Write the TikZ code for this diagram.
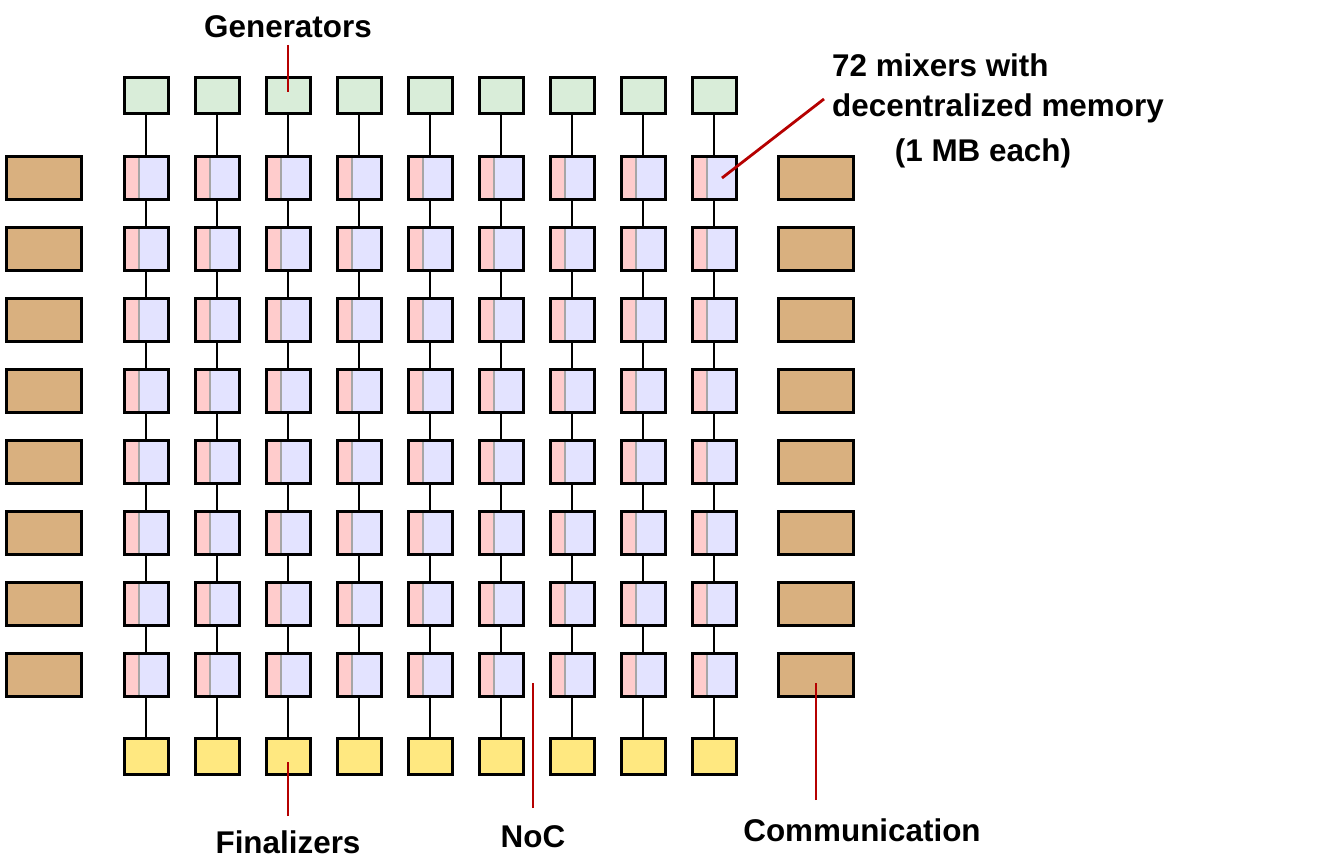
\documentclass[tikz,border=0pt]{standalone}
\usepackage{fontspec}
\setmainfont{Liberation Sans}
\definecolor{gengreen}{HTML}{D9EDD9}
\definecolor{finyellow}{HTML}{FFE880}
\definecolor{combrown}{HTML}{D9B07F}
\definecolor{memblue}{HTML}{E3E3FF}
\definecolor{cachered}{HTML}{FFCCCC}
\definecolor{sepgrey}{HTML}{A6A6A6}
\definecolor{calloutred}{HTML}{B50000}
\begin{document}
\begin{tikzpicture}
				[
				x=1pt, y=-1pt, font=\fontsize{31.4}{40}\selectfont\bfseries,
				%Kasten
				box/.style={draw=black, line width=3pt, inner sep=0pt},
				gen/.style={box, fill=gengreen, minimum width=44pt, minimum height=36pt},
				fin/.style={box, fill=finyellow, minimum width=44pt, minimum height=36pt},
				comm/.style={box, fill=combrown, minimum width=75pt, minimum height=43pt},
				mixer/.style={box, fill=memblue, minimum width=44pt, minimum height=43pt,
					path picture={
						\fill[cachered] (path picture bounding box.north west) rectangle ([xshift=14pt]path picture bounding box.south west);
						\draw[sepgrey, line width=2pt] ([xshift=14.5pt]path picture bounding box.north west) -- ([xshift=14.5pt]path picture bounding box.south west);
					}},
				%Verbindungen
				link/.style={draw=black, line width=2.8pt},
				callout/.style={draw=calloutred, line width=2.8pt},
				label/.style={inner sep=0pt}
				]
				
				%Rahmen
				\useasboundingbox (0,0) rectangle (1331,858);
				
				%Generatoren, Mixer, Finalizer
				\foreach \c in {1,...,9}{
					\node[gen] (g\c) at ({146+71*(\c-1)},95.5) {};
					\node[fin] (f\c) at ({146+71*(\c-1)},756.5) {};
					\foreach \r in {1,...,8}
						\node[mixer] (m-\r-\c) at ({146+71*(\c-1)},{178+71*(\r-1)}) {};
				}
				
				%Kommunikation links und rechts
				\foreach \r in {1,...,8}{
					\node[comm] (cl\r) at (44,{178+71*(\r-1)}) {};
					\node[comm] (cr\r) at (816,{178+71*(\r-1)}) {};
				}
				
				%NoC senkrecht
				\foreach \c in {1,...,9}{
					\draw[link] (g\c) -- (m-1-\c);
					\draw[link] (m-8-\c) -- (f\c);
					\foreach \r [evaluate=\r as \n using int(\r+1)] in {1,...,7}
						\draw[link] (m-\r-\c) -- (m-\n-\c);
				}
				
				%NoC waagerecht
				\foreach \r in {1,...,8}
					\foreach \c [evaluate=\c as \n using int(\c+1)] in {1,...,8}
						\draw[link] (m-\r-\c) -- (m-\r-\n);
				
				%Beschriftungen
				\node[label] (lgen) at (288,27) {Generators};
				\node[label, anchor=west, align=left] (lmix) at (832,88) {72 mixers with\\decentralized memory};
				\node[label] (lmb) at (983,153) {(1 MB each)};
				\node[label] (lnoc) at (533,837) {NoC};
				\node[label] (lcom) at (862,830) {Communication};
				\node[label] (lfin) at (288,842) {Finalizers};
				
				%Hinweislinien
				\coordinate (gentop) at (288,45);
				\coordinate (gentip) at (288,92);
				\coordinate (mixtop) at (824,99);
				\coordinate (mixtip) at (722,178);
				\coordinate (noctop) at (533,808);
				\coordinate (noctip) at (533,683);
				\coordinate (comtop) at (816,800);
				\coordinate (comtip) at (816,683);
				\coordinate (fintop) at (288,816);
				\coordinate (fintip) at (288,762);
				\draw[callout] (gentop) -- (gentip);
				\draw[callout] (mixtop) -- (mixtip);
				\draw[callout] (noctop) -- (noctip);
				\draw[callout] (comtop) -- (comtip);
				\draw[callout] (fintop) -- (fintip);
			\end{tikzpicture}
\end{document}
